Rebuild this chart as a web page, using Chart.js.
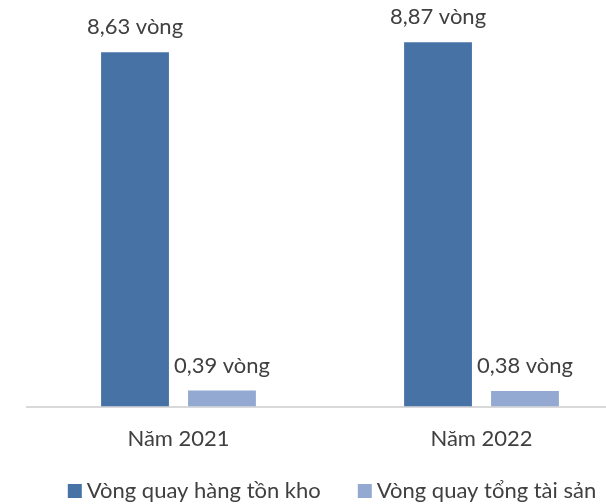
<!DOCTYPE html>
<html>
<head>
<meta charset="utf-8">
<script src="https://cdn.jsdelivr.net/npm/chart.js@4.4.1/dist/chart.umd.min.js"></script>
<style>
  html, body { margin: 0; padding: 0; background: #ffffff; overflow: hidden; }
  #wrap { position: relative; width: 660px; height: 504px; }
</style>
</head>
<body>
<div id="wrap"><canvas id="chart"></canvas></div>
<script>
// Chart data
const categories = ['Năm 2021', 'Năm 2022'];
const seriesNames = ['Vòng quay hàng tồn kho', 'Vòng quay tổng tài sản'];
const inventoryTurnover = [8.63, 8.87];
const assetTurnover = [0.39, 0.38];
const unitLabel = 'vòng';

const TEXT_COLOR = '#404040';
const FONT_FAMILY = 'Lato, "Open Sans", sans-serif';
const FONT_SIZE = 22;
const COLORS = ['#4672a6', '#93a9d1'];

function formatValue(v) {
  return v.toFixed(2).replace('.', ',') + ' ' + unitLabel;
}

// Draws the value text above each bar
const valueLabels = {
  id: 'valueLabels',
  afterDatasetsDraw(chart) {
    const ctx = chart.ctx;
    ctx.save();
    ctx.font = FONT_SIZE + 'px ' + FONT_FAMILY;
    ctx.fillStyle = TEXT_COLOR;
    ctx.textAlign = 'center';
    ctx.textBaseline = 'alphabetic';
    chart.data.datasets.forEach((ds, i) => {
      chart.getDatasetMeta(i).data.forEach((bar, j) => {
        ctx.fillText(formatValue(ds.data[j]), bar.x, bar.y - 18);
      });
    });
    ctx.restore();
  }
};

// Legend row under the axis: square swatch, small gap, series name
const bottomLegend = {
  id: 'bottomLegend',
  afterDraw(chart) {
    const ctx = chart.ctx;
    const box = 14, textGap = 5, itemGap = 37;
    const baseline = 498;
    ctx.save();
    ctx.font = FONT_SIZE + 'px ' + FONT_FAMILY;
    ctx.textBaseline = 'alphabetic';
    ctx.textAlign = 'left';
    const items = chart.data.datasets.map(ds => ({
      text: ds.label,
      color: ds.backgroundColor,
      w: box + textGap + ctx.measureText(ds.label).width
    }));
    const total = items.reduce((s, it) => s + it.w, 0) + itemGap * (items.length - 1);
    const center = (chart.chartArea.left + chart.chartArea.right) / 2 + 2;
    let x = center - total / 2;
    items.forEach(it => {
      ctx.fillStyle = it.color;
      ctx.fillRect(x, baseline - box, box, box);
      ctx.fillStyle = TEXT_COLOR;
      ctx.fillText(it.text, x + box + textGap, baseline);
      x += it.w + itemGap;
    });
    ctx.restore();
  }
};

new Chart(document.getElementById('chart'), {
  type: 'bar',
  data: {
    labels: categories,
    datasets: [
      {
        label: seriesNames[0],
        data: inventoryTurnover,
        backgroundColor: COLORS[0],
        categoryPercentage: 0.574,
        barPercentage: 0.78
      },
      {
        label: seriesNames[1],
        data: assetTurnover,
        backgroundColor: COLORS[1],
        categoryPercentage: 0.574,
        barPercentage: 0.78
      }
    ]
  },
  options: {
    responsive: true,
    maintainAspectRatio: false,
    animation: false,
    layout: { padding: { left: 27, right: 27, top: 0, bottom: 33 } },
    scales: {
      x: {
        grid: { display: false, drawTicks: false },
        border: { display: true, color: '#d9d9d9', width: 2 },
        ticks: {
          color: TEXT_COLOR,
          padding: 19,
          font: { family: FONT_FAMILY, size: FONT_SIZE }
        }
      },
      y: {
        display: false,
        min: 0,
        max: 9.9
      }
    },
    plugins: {
      legend: { display: false },
      tooltip: { enabled: false }
    }
  },
  plugins: [valueLabels, bottomLegend]
});
</script>
</body>
</html>
